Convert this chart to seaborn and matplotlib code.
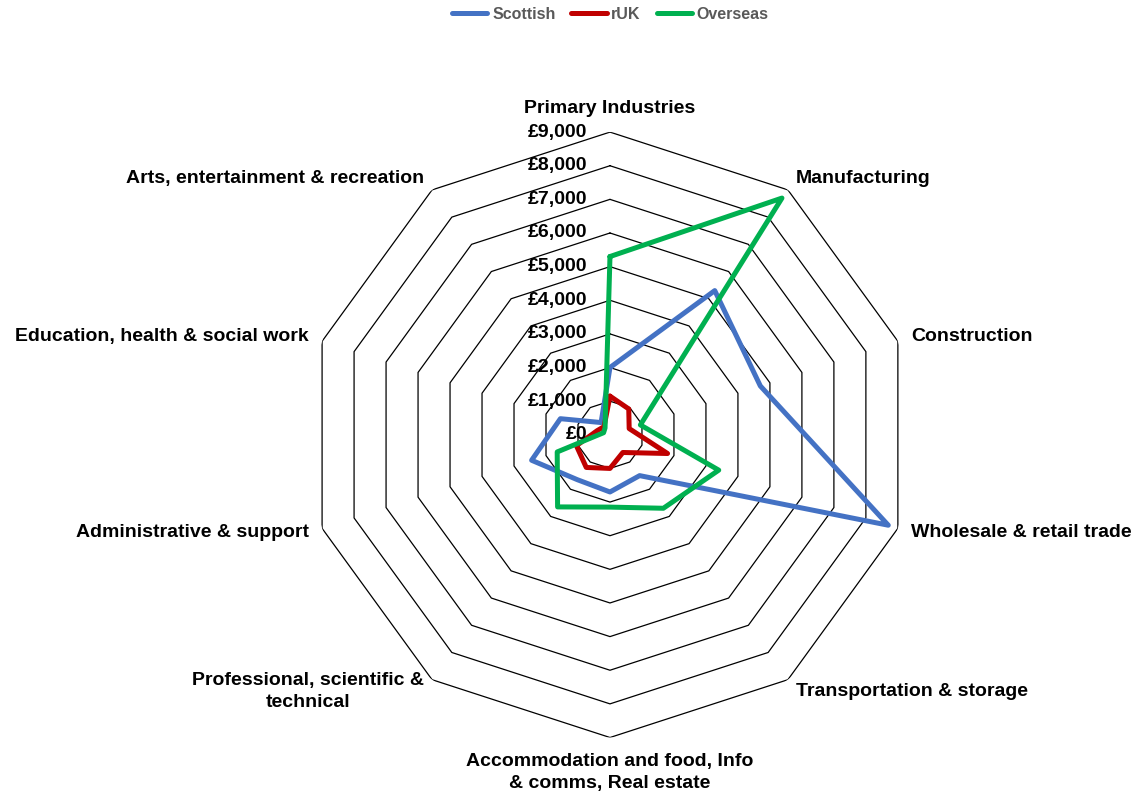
import numpy as np
import pandas as pd
import matplotlib
matplotlib.use('Agg')
import matplotlib.pyplot as plt
from matplotlib.lines import Line2D
import seaborn as sns

# data (GBP)
categories = ['Primary Industries', 'Manufacturing', 'Construction',
              'Wholesale & retail trade', 'Transportation & storage',
              'Accommodation and food, Info\n& comms, Real estate',
              'Professional, scientific &\ntechnical', 'Administrative & support',
              'Education, health & social work', 'Arts, entertainment & recreation']
scottish = [2000, 5300, 4700, 8700, 1500, 1700, 1650, 2450, 1550, 450]
ruk = [1150, 950, 600, 1800, 650, 1000, 1200, 1050, 400, 300]
overseas = [5300, 8700, 950, 3400, 2700, 2150, 2650, 1650, 200, 250]
series_names = ['Scottish', 'rUK', 'Overseas']
tick_values = [0, 1000, 2000, 3000, 4000, 5000, 6000, 7000, 8000, 9000]
tick_labels = ['£0', '£1,000', '£2,000', '£3,000', '£4,000', '£5,000',
               '£6,000', '£7,000', '£8,000', '£9,000']

colors = {'Scottish': '#4472C4', 'rUK': '#C00000', 'Overseas': '#00B050'}

sns.set_theme(style='white')
plt.rcParams['font.family'] = ['Liberation Sans', 'DejaVu Sans']
plt.rcParams['font.weight'] = 'bold'

n = len(categories)
theta = np.linspace(0, 2 * np.pi, n, endpoint=False)
theta_closed = np.append(theta, 2 * np.pi)

# long-form table, loop closed by repeating the first point
rows = []
for name, vals in zip(series_names, [scottish, ruk, overseas]):
    for t, v in zip(theta_closed, vals + vals[:1]):
        rows.append({'series': name, 'theta': t, 'value': v})
df = pd.DataFrame(rows)

fig = plt.figure(figsize=(11.41, 8), dpi=100)
ax = fig.add_axes([0.2693, 0.078, 0.5306, 0.757], projection='polar')
ax.set_theta_offset(np.pi / 2)
ax.set_theta_direction(-1)

# decagon gridlines
for v in tick_values[1:]:
    ax.plot(theta_closed, [v] * (n + 1), color='black', lw=0.9, zorder=1)

sns.lineplot(data=df, x='theta', y='value', hue='series', palette=colors,
             sort=False, estimator=None, linewidth=3.6, legend=False, ax=ax,
             zorder=3)
for ln in ax.get_lines():
    ln.set_solid_joinstyle('round')
    ln.set_solid_capstyle('round')

ax.set_ylim(0, 9000)
ax.grid(False)
ax.spines['polar'].set_visible(False)
ax.set_xticks([])
ax.set_yticks([])
ax.set_xlabel('')
ax.set_ylabel('')

# value labels along the top spoke
for v, lab in zip(tick_values, tick_labels):
    ax.annotate(lab, xy=(0, v), xytext=(-16.5, 0), textcoords='offset points',
                ha='right', va='center', fontsize=14, fontweight='bold',
                color='black', zorder=5)

# category labels
for t, lab in zip(theta, categories):
    s = np.sin(t)
    if abs(s) < 0.1:
        ha = 'center'
        r = 9700 if np.cos(t) > 0 else 10050
    else:
        ha = 'left' if s > 0 else 'right'
        r = 9420
    ax.text(t, r, lab, ha=ha, va='center', fontsize=14, fontweight='bold',
            color='black', linespacing=1.4, multialignment='center')

handles = [Line2D([0], [0], color=colors[s], lw=3.6, solid_capstyle='round')
           for s in series_names]
leg = fig.legend(handles, series_names, loc='center', bbox_to_anchor=(0.535, 0.982),
                 ncol=3, frameon=False, handlelength=2.2, handletextpad=0.3,
                 columnspacing=1.0, prop={'size': 11.5, 'weight': 'bold'})
for txt in leg.get_texts():
    txt.set_color('#595959')

fig.savefig('out.png', dpi=100, facecolor='white')
